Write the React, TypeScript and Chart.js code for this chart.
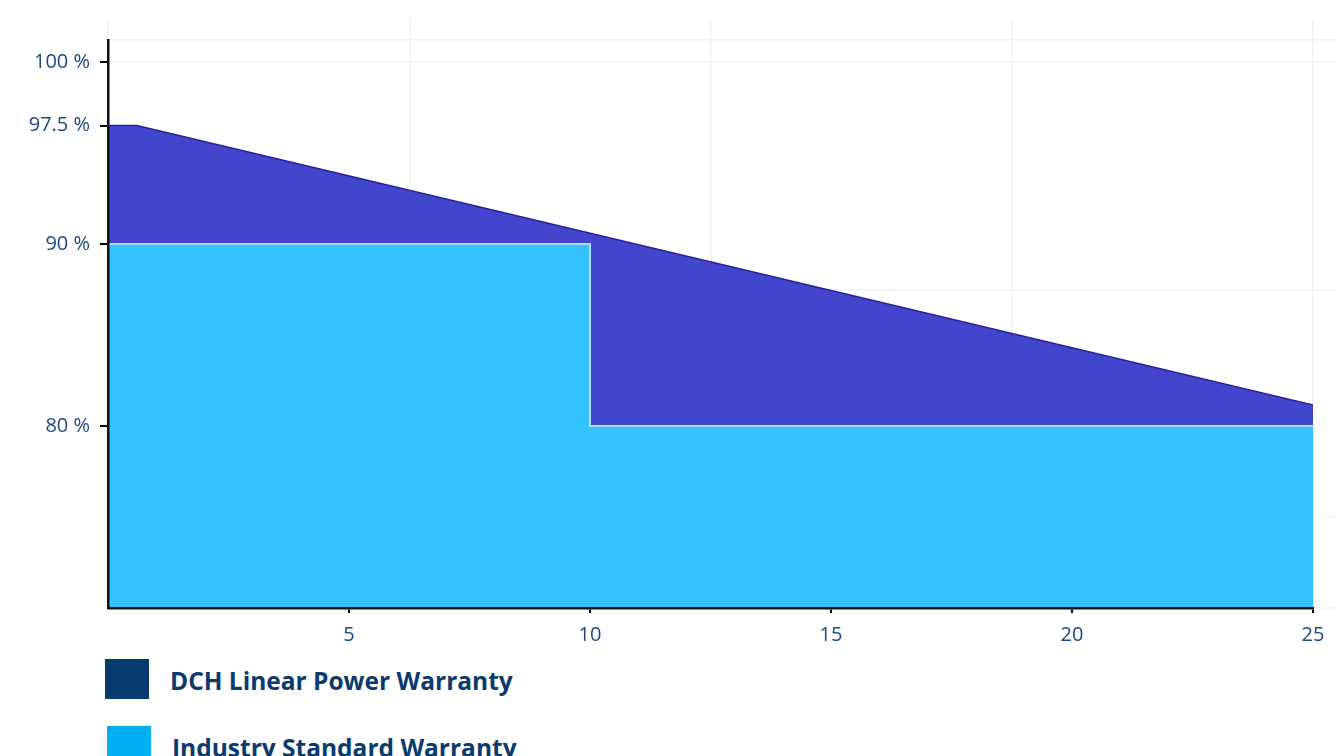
import React, { useEffect, useRef } from "react";
import { Chart, registerables } from "chart.js";

Chart.register(...registerables);

// Years on the x axis and warranted power (%) on the y axis
const dchYears = [0, 0.6, 25];
const dchValues = [96.5, 96.5, 81.15];

const stdYears = [0, 10, 10, 25];
const stdValues = [90, 90, 80, 80];

const xTickValues = [5, 10, 15, 20, 25];
const yTickValues = [80, 90, 96.5, 100];
const yTickLabels = ["80 %", "90 %", "97.5 %", "100 %"];

const seriesNames = ["DCH Linear Power Warranty", "Industry Standard Warranty"];
const legendColors = ["#0a3b6e", "#00b0f0"];

const TICK_COLOR = "#1a4b7f";
const FONT = "'Open Sans', 'DejaVu Sans', sans-serif";

export default function App() {
  const canvasRef = useRef<HTMLCanvasElement | null>(null);

  useEffect(() => {
    const canvas = canvasRef.current;
    if (!canvas) return;
    const chart = new Chart(canvas, {
      type: "line",
      data: {
        datasets: [
          {
            label: seriesNames[1],
            data: stdYears.map((x, i) => ({ x, y: stdValues[i] })),
            borderColor: "#a9dcff",
            borderWidth: 2,
            backgroundColor: "#33c1ff",
            fill: "start",
            pointRadius: 0,
            tension: 0,
            order: 0,
          },
          {
            label: seriesNames[0],
            data: dchYears.map((x, i) => ({ x, y: dchValues[i] })),
            borderColor: "#2a1f9c",
            borderWidth: 1.5,
            backgroundColor: "#4146cc",
            fill: "start",
            pointRadius: 0,
            tension: 0,
            order: 1,
          },
        ],
      },
      options: {
        responsive: false,
        animation: false,
        layout: { padding: { top: 40, right: 22, left: 0, bottom: 0 } },
        plugins: { legend: { display: false }, tooltip: { enabled: false } },
        scales: {
          x: {
            type: "linear",
            position: "bottom",
            min: 0,
            max: 25,
            afterBuildTicks: (s: any) => {
              s.ticks = xTickValues.map((v) => ({ value: v }));
            },
            afterFit: (s: any) => {
              s.height = 43;
            },
            ticks: {
              color: TICK_COLOR,
              font: { family: FONT, size: 20 },
              padding: 10,
              maxRotation: 0,
              z: 1,
            },
            grid: {
              drawOnChartArea: false,
              drawTicks: true,
              tickLength: 5,
              color: "#000",
              lineWidth: 2,
              z: 1,
            },
            border: { display: true, color: "#111", width: 2.5, z: 2 },
          },
          y: {
            type: "linear",
            position: "left",
            min: 70,
            max: 101.2,
            afterBuildTicks: (s: any) => {
              s.ticks = yTickValues.map((v) => ({ value: v }));
            },
            afterFit: (s: any) => {
              s.width = 108;
            },
            ticks: {
              color: TICK_COLOR,
              font: { family: FONT, size: 20 },
              padding: 10,
              z: 1,
              callback: (_v: any, i: number) => yTickLabels[i],
            },
            grid: {
              drawOnChartArea: false,
              drawTicks: true,
              tickLength: 8,
              color: "#000",
              lineWidth: 2,
              z: 1,
            },
            border: { display: true, color: "#111", width: 2.5, z: 2 },
          },
          x2: {
            type: "linear",
            position: "top",
            min: 0,
            max: 25,
            ticks: { display: false, stepSize: 6.25 },
            afterFit: (s: any) => {
              s.height = 0;
            },
            grid: { color: "#f4efef", drawTicks: true, tickLength: 22, lineWidth: 1.5 },
            border: { display: false },
          },
          y2: {
            type: "linear",
            position: "right",
            min: 70,
            max: 101.2,
            ticks: { display: false, stepSize: 12.5 },
            afterFit: (s: any) => {
              s.width = 0;
            },
            grid: { color: "#f4f2f2", drawTicks: true, tickLength: 22, lineWidth: 1.5 },
            border: { display: false },
          },
        },
      },
    });
    return () => chart.destroy();
  }, []);

  const legendTop = [659, 726];
  const legendLeft = [105, 107];

  return (
    <div
      style={{
        position: "absolute",
        left: 0,
        top: 0,
        width: 1335,
        height: 756,
        overflow: "hidden",
        background: "#fff",
      }}
    >
      <canvas ref={canvasRef} width={1335} height={651} style={{ position: "absolute", left: 0, top: 0 }} />
      {seriesNames.map((name, i) => (
        <div key={name}>
          <div
            style={{
              position: "absolute",
              left: legendLeft[i],
              top: legendTop[i],
              width: 44,
              height: 40,
              background: legendColors[i],
            }}
          />
          <div
            style={{
              position: "absolute",
              left: legendLeft[i] + 65,
              top: legendTop[i] + 10,
              fontFamily: FONT,
              fontWeight: 700,
              fontSize: 24.5,
              lineHeight: 1,
              color: "#0a3b6e",
              whiteSpace: "nowrap",
            }}
          >
            {name}
          </div>
        </div>
      ))}
    </div>
  );
}
